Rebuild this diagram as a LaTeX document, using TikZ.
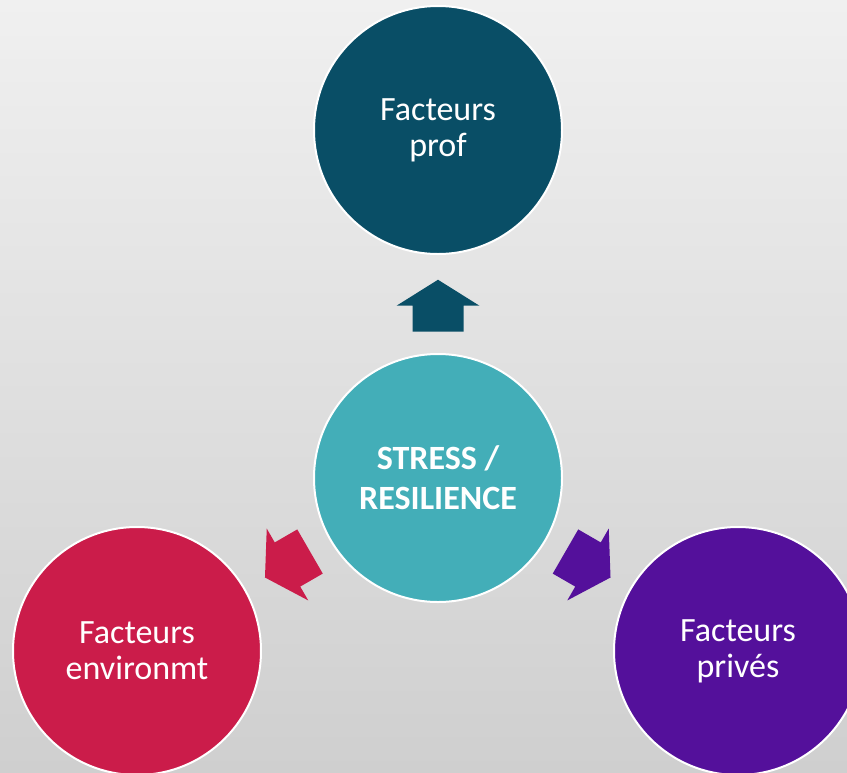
\documentclass[tikz,border=0pt]{standalone}
\usepackage{fontspec}
\setmainfont{Carlito}
\usetikzlibrary{calc}
\definecolor{bgtop}{HTML}{F0F0F0}
\definecolor{bgbot}{HTML}{CFCFCF}
\definecolor{cprof}{HTML}{094E66}
\definecolor{ccenter}{HTML}{43AEB8}
\definecolor{cenv}{HTML}{CB1C4A}
\definecolor{cpriv}{HTML}{54109B}
\tikzset{
  bubble/.style={circle, minimum size=248pt, inner sep=0pt, draw=white, line width=2pt,
    text=white, align=center, font=\fontsize{34}{36}\selectfont},
  centerbubble/.style={bubble, font=\fontsize{34}{40}\selectfont\bfseries},
  blockarrow/.pic={\fill[#1] (0,-26) -- (41.5,0) -- (25.5,0) -- (25.5,26) -- (-25.5,26) -- (-25.5,0) -- (-41.5,0) -- cycle;}
}
\begin{document}
\begin{tikzpicture}[x=1pt,y=-1pt]
\useasboundingbox (0,0) rectangle (847,772);
\shade[top color=bgtop, bottom color=bgbot] (0,0) rectangle (847,772);
\begin{scope}
\clip (0,0) rectangle (847,772);
\node[bubble, fill=cprof] (t) at (438,130) {Facteurs\\prof};
\node[centerbubble, fill=ccenter] (c) at (438,478) {STRESS /\\RESILIENCE};
\node[bubble, fill=cenv] (l) at (137,651) {Facteurs\\environmt};
\node[bubble, fill=cpriv] (r) at (738,651) {Facteurs\\privés};
\path ($(c)!0.495!(t)$) pic {blockarrow=cprof};
\path ($(c)!0.5!(l)$) pic[rotate=120] {blockarrow=cenv};
\path ($(c)!0.5!(r)$) pic[rotate=-120] {blockarrow=cpriv};
\end{scope}
\end{tikzpicture}
\end{document}
